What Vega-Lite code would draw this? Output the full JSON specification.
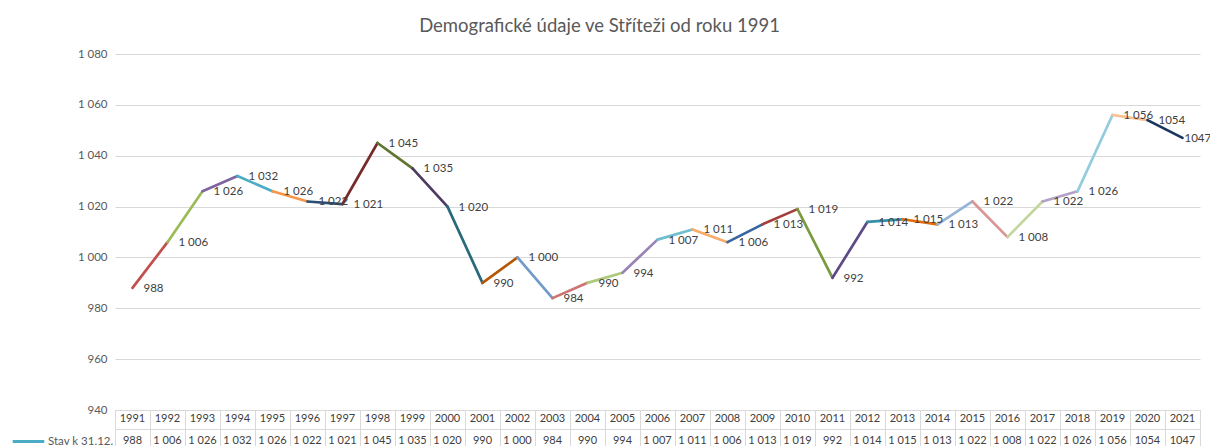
{
  "$schema": "https://vega.github.io/schema/vega-lite/v6.json",
  "padding": {"left": 11, "top": 16, "right": 0, "bottom": 0},
  "background": "white",
  "bounds": "flush",
  "config": {"font": "Lato", "view": {"stroke": null}},
  "spacing": 0,
  "data": {"values": [
    {"year": 1991, "value": 988, "label": "988"},
    {"year": 1992, "value": 1006, "label": "1 006"},
    {"year": 1993, "value": 1026, "label": "1 026"},
    {"year": 1994, "value": 1032, "label": "1 032"},
    {"year": 1995, "value": 1026, "label": "1 026"},
    {"year": 1996, "value": 1022, "label": "1 022"},
    {"year": 1997, "value": 1021, "label": "1 021"},
    {"year": 1998, "value": 1045, "label": "1 045"},
    {"year": 1999, "value": 1035, "label": "1 035"},
    {"year": 2000, "value": 1020, "label": "1 020"},
    {"year": 2001, "value": 990, "label": "990"},
    {"year": 2002, "value": 1000, "label": "1 000"},
    {"year": 2003, "value": 984, "label": "984"},
    {"year": 2004, "value": 990, "label": "990"},
    {"year": 2005, "value": 994, "label": "994"},
    {"year": 2006, "value": 1007, "label": "1 007"},
    {"year": 2007, "value": 1011, "label": "1 011"},
    {"year": 2008, "value": 1006, "label": "1 006"},
    {"year": 2009, "value": 1013, "label": "1 013"},
    {"year": 2010, "value": 1019, "label": "1 019"},
    {"year": 2011, "value": 992, "label": "992"},
    {"year": 2012, "value": 1014, "label": "1 014"},
    {"year": 2013, "value": 1015, "label": "1 015"},
    {"year": 2014, "value": 1013, "label": "1 013"},
    {"year": 2015, "value": 1022, "label": "1 022"},
    {"year": 2016, "value": 1008, "label": "1 008"},
    {"year": 2017, "value": 1022, "label": "1 022"},
    {"year": 2018, "value": 1026, "label": "1 026"},
    {"year": 2019, "value": 1056, "label": "1 056"},
    {"year": 2020, "value": 1054, "label": "1054"},
    {"year": 2021, "value": 1047, "label": "1047"}
  ]},
  "vconcat": [
    {
      "width": 1085,
      "height": 356,
      "title": {"text": "Demografické údaje ve Stříteži od roku 1991", "anchor": "middle", "dx": -58, "offset": 13, "fontSize": 18.5, "font": "Lato", "fontWeight": "normal", "color": "#595959"},
      "encoding": {
        "x": {"field": "year", "type": "ordinal", "scale": {"paddingInner": 0, "paddingOuter": 0}, "axis": null},
        "y": {"field": "value", "type": "quantitative", "scale": {"domain": [940, 1080], "nice": false, "zero": false},
          "axis": {"title": null, "values": [940, 960, 980, 1000, 1020, 1040, 1060, 1080], "labelExpr": "replace(format(datum.value, ','), ',', ' ')", "labelFont": "Lato", "labelFontSize": 11.5, "labelColor": "#595959", "domain": false, "ticks": false, "tickSize": 0, "labelPadding": 8, "gridColor": "#D9D9D9", "gridWidth": 1}}
      },
      "layer": [
        {
          "transform": [
            {"window": [{"op": "lag", "field": "year", "as": "py"}, {"op": "lag", "field": "value", "as": "pv"}], "sort": [{"field": "year"}]},
            {"filter": "datum.py != null"}
          ],
          "mark": {"type": "rule", "strokeWidth": 2.7, "strokeCap": "round"},
          "encoding": {
            "x": {"field": "py", "type": "ordinal"},
            "x2": {"field": "year"},
            "y": {"field": "pv", "type": "quantitative"},
            "y2": {"field": "value"},
            "color": {"field": "year", "type": "ordinal", "legend": null,
              "scale": {"domain": [1992,1993,1994,1995,1996,1997,1998,1999,2000,2001,2002,2003,2004,2005,2006,2007,2008,2009,2010,2011,2012,2013,2014,2015,2016,2017,2018,2019,2020,2021],
                "range": ["#C0504D","#9BBB59","#8064A2","#4BACC6","#F79646","#2C4D75","#772C2A","#5F7530","#4D3B62","#276A7C","#B65708","#729ACA","#CD7371","#AFC97A","#9983B5","#6FBDD1","#F9AB6B","#3A65A0","#A33F3C","#7A9A3E","#5E4A86","#3390A8","#E46C0A","#95B3D7","#D99694","#C3D69B","#B2A1C7","#93CDDD","#FAC090","#17375E"]}}
          }
        },
        {
          "transform": [{"filter": "datum.year < 2021"}],
          "mark": {"type": "text", "align": "left", "baseline": "middle", "dx": 11, "dy": 1, "fontSize": 11.5, "font": "Lato", "color": "#404040"},
          "encoding": {"text": {"field": "label"}}
        },
        {
          "transform": [{"filter": "datum.year == 2021"}],
          "mark": {"type": "text", "align": "left", "baseline": "middle", "dx": 2, "dy": 1, "fontSize": 11.5, "font": "Lato", "color": "#404040"},
          "encoding": {"text": {"field": "label"}}
        }
      ]
    },
    {
      "width": 1085,
      "height": 37,
      "view": {"stroke": "#D9D9D9"},
      "encoding": {
        "x": {"field": "year", "type": "ordinal", "scale": {"paddingInner": 0, "paddingOuter": 0},
          "axis": {"title": null, "labels": false, "ticks": false, "domain": false, "grid": true, "tickBand": "extent", "gridColor": "#D9D9D9"}}
      },
      "layer": [
        {
          "mark": {"type": "text", "fontSize": 11, "font": "Lato", "color": "#404040", "baseline": "middle"},
          "encoding": {
            "y": {"datum": "h", "type": "nominal", "scale": {"domain": ["h", "v"], "paddingInner": 0, "paddingOuter": 0},
              "axis": {"title": null, "labels": false, "ticks": false, "domain": false, "grid": true, "tickBand": "extent", "gridColor": "#D9D9D9"}},
            "text": {"field": "year"}
          }
        },
        {
          "mark": {"type": "text", "fontSize": 11, "font": "Lato", "color": "#404040", "baseline": "middle", "dy": 3.5},
          "encoding": {
            "y": {"datum": "v", "type": "nominal"},
            "text": {"field": "label"}
          }
        },
        {
          "mark": {"type": "rule", "opacity": 0},
          "encoding": {
            "stroke": {"datum": "Stav k 31.12.", "type": "nominal", "scale": {"range": ["#4BACC6"]},
              "legend": {"title": null, "orient": "none", "legendX": -104, "legendY": 370, "symbolType": "stroke", "symbolSize": 1000, "symbolStrokeWidth": 3, "symbolOpacity": 1, "labelFont": "Lato", "labelFontSize": 11.5, "labelColor": "#595959", "labelOffset": 2}}
          }
        }
      ]
    }
  ]
}
